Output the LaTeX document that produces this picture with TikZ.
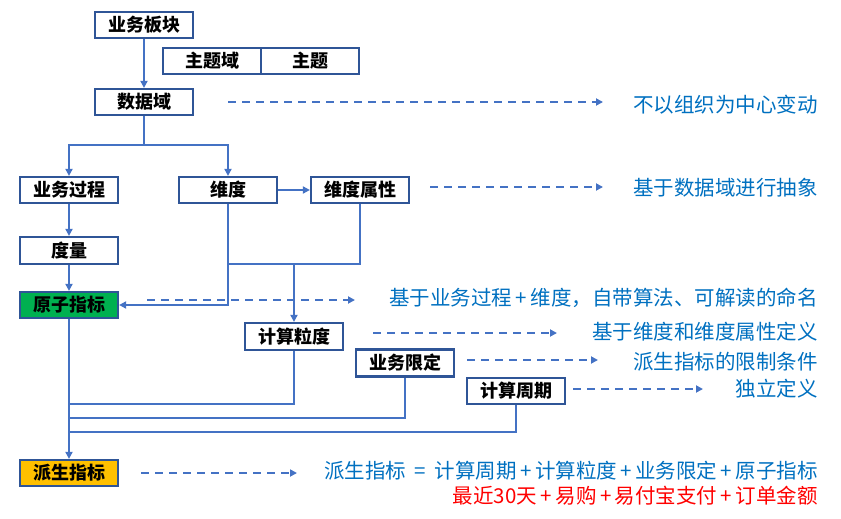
\documentclass[tikz,border=0pt]{standalone}
\usepackage{fontspec}
\newfontfamily\cjk{Noto Sans CJK SC}
\usetikzlibrary{arrows.meta}
\definecolor{boxblue}{HTML}{2F5597}
\definecolor{lineblue}{HTML}{4472C4}
\definecolor{textblue}{HTML}{0070C0}
\definecolor{gfill}{HTML}{00B050}
\definecolor{yfill}{HTML}{FFC000}
\definecolor{tred}{HTML}{FF0000}
\newcommand\pls{\kern3.5pt+\kern3.5pt}
\begin{document}
\begin{tikzpicture}[x=1pt,y=-1pt,
  box/.style={draw=boxblue,line width=2.2pt,fill=white,minimum width=98pt,minimum height=26pt,inner sep=0pt,
    font=\cjk\bfseries\fontsize{18}{20}\selectfont},
  conn/.style={draw=lineblue,line width=1.8pt},
  arr/.style={conn,-{Triangle[length=7pt,width=7pt]}},
  darr/.style={draw=lineblue,line width=2pt,dash pattern=on 8pt off 6pt,-{Triangle[length=7pt,width=7pt]}},
  desc/.style={anchor=east,inner sep=0pt,text=textblue,font=\cjk\fontsize{20.5}{24}\selectfont}]
\useasboundingbox (0,0) rectangle (841,519);
% boxes
\node[box] (bk) at (144,25) {业务板块};
\node[box] (ztyu) at (212,61) {主题域};
\node[box] (zt) at (310,61) {主题};
\node[box] (sjy) at (144,102) {数据域};
\node[box] (ywgc) at (69,190) {业务过程};
\node[box] (wd) at (228,190) {维度};
\node[box] (wdsx) at (360,190) {维度属性};
\node[box,minimum height=27pt] (dl) at (69,250.5) {度量};
\node[box,fill=gfill] (yzzb) at (69,305) {原子指标};
\node[box,minimum height=27pt] (jsld) at (294,336.5) {计算粒度};
\node[box,minimum height=27pt] (ywxd) at (405,363) {业务限定};
\node[box] (jszq) at (516,391) {计算周期};
\node[box,fill=yfill] (pszb) at (69,473) {派生指标};
% connectors
\draw[arr] (bk.south) -- (sjy.north);
\coordinate (br) at (144,145);
\draw[conn] (sjy.south) -- (br);
\draw[arr] (br) -| (ywgc.north);
\draw[arr] (br) -| (wd.north);
\draw[arr] (wd.east) -- (wdsx.west);
\draw[arr] (ywgc.south) -- (dl.north);
\draw[arr] (dl.south) -- (yzzb.north);
\coordinate (j1) at (228,264);
\coordinate (j2) at (294,264);
\draw[arr] (wd.south) |- (yzzb.east);
\draw[conn] (wdsx.south) |- (j1);
\draw[arr] (j2) -- (jsld.north);
\draw[arr] (yzzb.south) -- (pszb.north);
\draw[conn] (jsld.south) |- (69,404);
\draw[conn] (ywxd.south) |- (69,418);
\draw[conn] (jszq.south) |- (69,432);
% descriptions
\node[desc] (t1) at (818,105) {不以组织为中心变动};
\node[desc] (t2) at (818,188) {基于数据域进行抽象};
\node[desc] (t3) at (818,298) {基于业务过程\pls 维度，自带算法、可解读的命名};
\node[desc] (t4) at (818,332) {基于维度和维度属性定义};
\node[desc] (t5) at (818,362) {派生指标的限制条件};
\node[desc] (t6) at (818,389) {独立定义};
\node[desc] (t7) at (818,471) {派生指标\kern4pt\ =\ \kern4pt计算周期\pls 计算粒度\pls 业务限定\pls 原子指标};
\node[desc,text=tred] (t8) at (818,496) {最近30天\pls 易购\pls 易付宝支付\pls 订单金额};
% dashed arrows
\coordinate (d1s) at (228,102); \coordinate (d1e) at (603,102);
\coordinate (d2s) at (430,187); \coordinate (d2e) at (603,187);
\coordinate (d3s) at (147,300); \coordinate (d3e) at (355,300);
\coordinate (d4s) at (373,333); \coordinate (d4e) at (557,333);
\coordinate (d5s) at (467,360); \coordinate (d5e) at (598,360);
\coordinate (d6s) at (573,389); \coordinate (d6e) at (703,389);
\coordinate (d7s) at (141,473); \coordinate (d7e) at (297,473);
\foreach \i in {1,...,7} {\draw[darr] (d\i s) -- (d\i e);}
\end{tikzpicture}
\end{document}
